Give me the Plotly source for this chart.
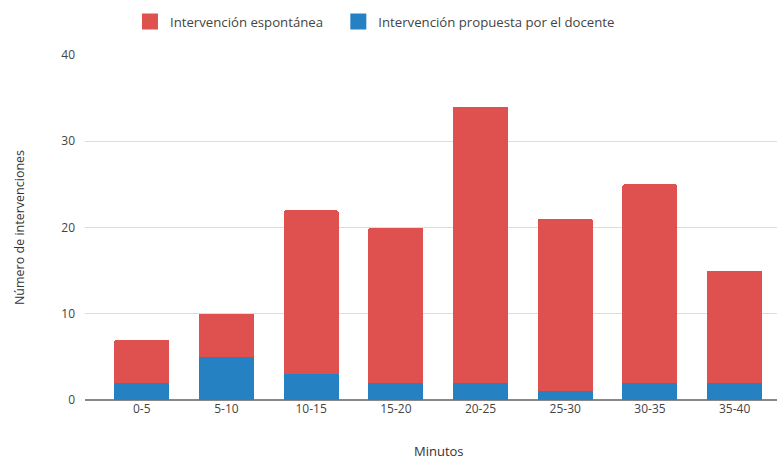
import plotly.graph_objects as go

categories = ["0-5", "5-10", "10-15", "15-20", "20-25", "25-30", "30-35", "35-40"]
propuesta = [2, 5, 3, 2, 2, 1, 2, 2]
espontanea = [5, 5, 19, 18, 32, 20, 23, 13]
y_ticks = [0, 10, 20, 30, 40]

RED = "#de514f"
BLUE = "#2681c2"
FONT = "Open Sans"
NAME_PROP = "Intervención propuesta por el docente"
NAME_ESP = "Intervención espontánea"

fig = go.Figure()
fig.add_trace(go.Bar(x=categories, y=propuesta, name=NAME_PROP, showlegend=False,
                     marker=dict(color=BLUE, line=dict(width=0))))
fig.add_trace(go.Bar(x=categories, y=espontanea, name=NAME_ESP, showlegend=False,
                     marker=dict(color=RED, line=dict(width=0))))
# legend-only entries with larger square swatches
fig.add_trace(go.Scatter(x=[None], y=[None], mode="markers", name=NAME_ESP + "\u00a0\u00a0\u00a0",
                         marker=dict(symbol="square", size=16, color=RED)))
fig.add_trace(go.Scatter(x=[None], y=[None], mode="markers", name=NAME_PROP,
                         marker=dict(symbol="square", size=16, color=BLUE)))

fig.update_layout(
    width=782, height=461,
    margin=dict(l=85, r=5, t=55, b=61),
    barmode="stack",
    bargap=0.35,
    barcornerradius=2,
    plot_bgcolor="white",
    paper_bgcolor="white",
    font=dict(family=FONT, size=12, color="#444444"),
    legend=dict(orientation="h", traceorder="normal", x=0.065, xanchor="left",
                y=1.096, yanchor="middle", font=dict(size=13.2, color="#444444"),
                itemsizing="trace", bgcolor="rgba(0,0,0,0)"),
    xaxis=dict(range=[-0.67, 7.5], showgrid=False, ticks="", showline=False,
               automargin=False,
               tickfont=dict(size=12, color="#444444")),
    yaxis=dict(range=[0, 40], tickvals=y_ticks, gridcolor="#dddddd", gridwidth=1,
               zeroline=True, zerolinecolor="#888888", zerolinewidth=2,
               ticks="", ticklabelstandoff=9, automargin=False,
               tickfont=dict(size=12, color="#444444"),
               title=dict(text="Número de intervenciones", font=dict(size=12.5, color="#333333"),
                          standoff=33)),
    annotations=[dict(text="Minutos", xref="paper", yref="paper", x=0.5116, y=-0.148,
                      xanchor="center", yanchor="middle", showarrow=False,
                      font=dict(size=13, color="#333333"))],
)

fig.write_html("out.html")
